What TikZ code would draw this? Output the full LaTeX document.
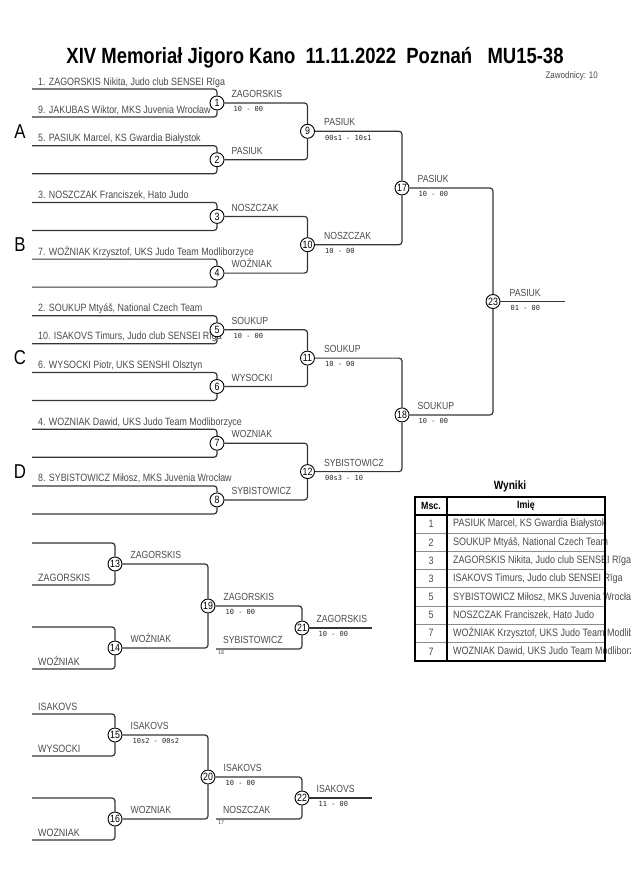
\documentclass[tikz,border=0pt]{standalone}
\usepackage{fontspec}
\setmainfont{Liberation Sans}[FakeStretch=0.84]
\newfontfamily\scorefont{DejaVu Sans Mono}
\usepackage{xcolor}
\definecolor{lineGrey}{HTML}{353535}
\definecolor{textGrey}{HTML}{4A4A4A}
\usetikzlibrary{positioning}
\tikzset{
    bout/.style={circle, draw, fill=white, minimum size=14pt, inner sep=0pt,
                 line width=0.9pt, font=\fontsize{10.5}{10.5}\selectfont},
    bline/.style={draw=lineGrey, line width=1.2pt, rounded corners=3pt},
    player/.style={anchor=base west, inner sep=0pt, text=textGrey,
                   font=\fontsize{10.6}{11}\selectfont},
    winner/.style={inner sep=0pt, text=textGrey,
                   font=\fontsize{10.3}{11}\selectfont},
    score/.style={inner sep=0pt, text=black!85,
                  font=\scorefont\fontsize{7}{7}\selectfont},
    seedref/.style={inner sep=0pt, text=textGrey,
                    font=\scorefont\fontsize{5}{5}\selectfont},
    group/.style={inner sep=0pt, font=\fontsize{20}{20}\selectfont},
    cell/.style={inner sep=0pt, text=textGrey, font=\fontsize{10.7}{11}\selectfont},
}

\begin{document}
\begin{tikzpicture}[x=1pt, y=-1pt]
    \useasboundingbox (0,0) rectangle (630,891);

    % title
    \node[font=\bfseries\fontsize{22}{22}\selectfont] (title) at (315,58)
        {XIV Memoriał Jigoro Kano\ \ 11.11.2022\ \ Poznań\ \ \ MU15-38};
    \node[anchor=east, inner sep=0pt, text=textGrey, font=\fontsize{9.5}{10}\selectfont]
        (count) at (598,76) {Zawodnicy: 10};

    % groups
    \node[group] (gA) at (20,131.3) {A};
    \node[group] (gB) at (20,244.7) {B};
    \node[group] (gC) at (20,358.1) {C};
    \node[group] (gD) at (20,471.6) {D};

    % entries
    \node[player] (p1)  at (38,85)    {1. ZAGORSKIS Nikita, Judo club SENSEI Rīga};
    \node[player] (p9)  at (38,113)   {9. JAKUBAS Wiktor, MKS Juvenia Wrocław};
    \node[player] (p5)  at (38,141.7) {5. PASIUK Marcel, KS Gwardia Białystok};
    \node[player] (p3)  at (38,198.4) {3. NOSZCZAK Franciszek, Hato Judo};
    \node[player] (p7)  at (38,255.1) {7. WOŹNIAK Krzysztof, UKS Judo Team Modliborzyce};
    \node[player] (p2)  at (38,311.8) {2. SOUKUP Mtyáš, National Czech Team};
    \node[player] (p10) at (38,339.8) {10. ISAKOVS Timurs, Judo club SENSEI Rīga};
    \node[player] (p6)  at (38,368.5) {6. WYSOCKI Piotr, UKS SENSHI Olsztyn};
    \node[player] (p4)  at (38,425.2) {4. WOZNIAK Dawid, UKS Judo Team Modliborzyce};
    \node[player] (p8)  at (38,481.9) {8. SYBISTOWICZ Miłosz, MKS Juvenia Wrocław};

    \node[player] (r13) at (38,581) {ZAGORSKIS};
    \node[player] (r14) at (38,665) {WOŹNIAK};
    \node[player] (r15a) at (38,710) {ISAKOVS};
    \node[player] (r15b) at (38,752) {WYSOCKI};
    \node[player] (r16) at (38,836) {WOZNIAK};

    % bouts
    \node[bout] (m1) at (217,103)   {1};
    \node[bout] (m2) at (217,159.7) {2};
    \node[bout] (m3) at (217,216.4) {3};
    \node[bout] (m4) at (217,273.1) {4};
    \node[bout] (m5) at (217,329.8) {5};
    \node[bout] (m6) at (217,386.5) {6};
    \node[bout] (m7) at (217,443.2) {7};
    \node[bout] (m8) at (217,499.9) {8};
    \node[bout] (m9)  at (307.5,131.3) {9};
    \node[bout] (m10) at (307.5,244.7) {10};
    \node[bout] (m11) at (307.5,358.1) {11};
    \node[bout] (m12) at (307.5,471.6) {12};
    \node[bout] (m17) at (402,188)   {17};
    \node[bout] (m18) at (402,414.9) {18};
    \node[bout] (m23) at (493,301.5) {23};

    \node[bout] (m13) at (115,564) {13};
    \node[bout] (m14) at (115,648) {14};
    \node[bout] (m15) at (115,735) {15};
    \node[bout] (m16) at (115,819) {16};
    \node[bout] (m19) at (208,606) {19};
    \node[bout] (m20) at (208,777) {20};
    \node[bout] (m21) at (302,628) {21};
    \node[bout] (m22) at (302,798) {22};

    % line ends
    \coordinate (in1a) at (32,89);    \coordinate (in1b) at (32,117);
    \coordinate (in2a) at (32,145.7); \coordinate (in2b) at (32,173.7);
    \coordinate (in3a) at (32,202.4); \coordinate (in3b) at (32,230.4);
    \coordinate (in4a) at (32,259.1); \coordinate (in4b) at (32,287.1);
    \coordinate (in5a) at (32,315.8); \coordinate (in5b) at (32,343.8);
    \coordinate (in6a) at (32,372.5); \coordinate (in6b) at (32,400.5);
    \coordinate (in7a) at (32,429.2); \coordinate (in7b) at (32,457.2);
    \coordinate (in8a) at (32,485.9); \coordinate (in8b) at (32,513.9);
    \coordinate (in13a) at (32,543); \coordinate (in13b) at (32,585);
    \coordinate (in14a) at (32,627); \coordinate (in14b) at (32,669);
    \coordinate (in15a) at (32,714); \coordinate (in15b) at (32,756);
    \coordinate (in16a) at (32,798); \coordinate (in16b) at (32,840);
    \coordinate (in21) at (216,649);
    \coordinate (in22) at (216,819);
    \coordinate (out23) at (565,301.5);
    \coordinate (out21) at (372,628);
    \coordinate (out22) at (372,798);

    % first round
    \draw[bline] (in1a) -| (m1);  \draw[bline] (in1b) -| (m1);
    \draw[bline] (in2a) -| (m2);  \draw[bline] (in2b) -| (m2);
    \draw[bline] (in3a) -| (m3);  \draw[bline] (in3b) -| (m3);
    \draw[bline] (in4a) -| (m4);  \draw[bline] (in4b) -| (m4);
    \draw[bline] (in5a) -| (m5);  \draw[bline] (in5b) -| (m5);
    \draw[bline] (in6a) -| (m6);  \draw[bline] (in6b) -| (m6);
    \draw[bline] (in7a) -| (m7);  \draw[bline] (in7b) -| (m7);
    \draw[bline] (in8a) -| (m8);  \draw[bline] (in8b) -| (m8);
    % main bracket
    \draw[bline] (m1) -| (m9);   \draw[bline] (m2) -| (m9);
    \draw[bline] (m3) -| (m10);  \draw[bline] (m4) -| (m10);
    \draw[bline] (m5) -| (m11);  \draw[bline] (m6) -| (m11);
    \draw[bline] (m7) -| (m12);  \draw[bline] (m8) -| (m12);
    \draw[bline] (m9) -| (m17);  \draw[bline] (m10) -| (m17);
    \draw[bline] (m11) -| (m18); \draw[bline] (m12) -| (m18);
    \draw[bline] (m17) -| (m23); \draw[bline] (m18) -| (m23);
    \draw[bline] (m23) -- (out23);
    % repechage
    \draw[bline] (in13a) -| (m13); \draw[bline] (in13b) -| (m13);
    \draw[bline] (in14a) -| (m14); \draw[bline] (in14b) -| (m14);
    \draw[bline] (in15a) -| (m15); \draw[bline] (in15b) -| (m15);
    \draw[bline] (in16a) -| (m16); \draw[bline] (in16b) -| (m16);
    \draw[bline] (m13) -| (m19);   \draw[bline] (m14) -| (m19);
    \draw[bline] (m15) -| (m20);   \draw[bline] (m16) -| (m20);
    \draw[bline] (m19) -| (m21);   \draw[bline] (in21) -| (m21);
    \draw[bline] (m20) -| (m22);   \draw[bline] (in22) -| (m22);
    \draw[bline] (m21) -- (out21);
    \draw[bline] (m22) -- (out22);

    % winners and scores
    \node[winner, above right=5pt and 7pt of m1.east] (w1) {ZAGORSKIS};
    \node[score, below right=3.5pt and 9pt of m1.east] (s1) {10 - 00};
    \node[winner, above right=5pt and 7pt of m2.east] (w2) {PASIUK};
    \node[winner, above right=5pt and 7pt of m3.east] (w3) {NOSZCZAK};
    \node[winner, above right=5pt and 7pt of m4.east] (w4) {WOŹNIAK};
    \node[winner, above right=5pt and 7pt of m5.east] (w5) {SOUKUP};
    \node[score, below right=3.5pt and 9pt of m5.east] (s5) {10 - 00};
    \node[winner, above right=5pt and 7pt of m6.east] (w6) {WYSOCKI};
    \node[winner, above right=5pt and 7pt of m7.east] (w7) {WOZNIAK};
    \node[winner, above right=5pt and 7pt of m8.east] (w8) {SYBISTOWICZ};
    \node[winner, above right=5pt and 9pt of m9.east] (w9) {PASIUK};
    \node[score, below right=3.5pt and 10pt of m9.east] (s9) {00s1 - 10s1};
    \node[winner, above right=5pt and 9pt of m10.east] (w10) {NOSZCZAK};
    \node[score, below right=3.5pt and 10pt of m10.east] (s10) {10 - 00};
    \node[winner, above right=5pt and 9pt of m11.east] (w11) {SOUKUP};
    \node[score, below right=3.5pt and 10pt of m11.east] (s11) {10 - 00};
    \node[winner, above right=5pt and 9pt of m12.east] (w12) {SYBISTOWICZ};
    \node[score, below right=3.5pt and 10pt of m12.east] (s12) {00s3 - 10};
    \node[winner, above right=5pt and 8pt of m17.east] (w17) {PASIUK};
    \node[score, below right=3.5pt and 9pt of m17.east] (s17) {10 - 00};
    \node[winner, above right=5pt and 8pt of m18.east] (w18) {SOUKUP};
    \node[score, below right=3.5pt and 9pt of m18.east] (s18) {10 - 00};
    \node[winner, above right=5pt and 9pt of m23.east] (w23) {PASIUK};
    \node[score, below right=3.5pt and 10pt of m23.east] (s23) {01 - 00};

    \node[winner, above right=5pt and 8pt of m13.east] (w13) {ZAGORSKIS};
    \node[winner, above right=5pt and 8pt of m14.east] (w14) {WOŹNIAK};
    \node[winner, above right=5pt and 8pt of m15.east] (w15) {ISAKOVS};
    \node[score, below right=3.5pt and 10pt of m15.east] (s15) {10s2 - 00s2};
    \node[winner, above right=5pt and 8pt of m16.east] (w16) {WOZNIAK};
    \node[winner, above right=5pt and 8pt of m19.east] (w19) {ZAGORSKIS};
    \node[score, below right=3.5pt and 10pt of m19.east] (s19) {10 - 00};
    \node[winner, above right=5pt and 8pt of m20.east] (w20) {ISAKOVS};
    \node[score, below right=3.5pt and 10pt of m20.east] (s20) {10 - 00};
    \node[winner, above right=5pt and 7pt of m21.east] (w21) {ZAGORSKIS};
    \node[score, below right=3.5pt and 9pt of m21.east] (s21) {10 - 00};
    \node[winner, above right=5pt and 7pt of m22.east] (w22) {ISAKOVS};
    \node[score, below right=3.5pt and 9pt of m22.east] (s22) {11 - 00};
    \node[winner, above right=5pt and 7pt of in21] (l21) {SYBISTOWICZ};
    \node[seedref, below right=2pt and 2pt of in21] (f21) {18};
    \node[winner, above right=5pt and 7pt of in22] (l22) {NOSZCZAK};
    \node[seedref, below right=2pt and 2pt of in22] (f22) {17};

    % results
    \node[font=\bfseries\fontsize{12}{12}\selectfont] (res) at (510,486) {Wyniki};
    \node[font=\bfseries\fontsize{10.5}{10.5}\selectfont] (hMsc) at (431,506) {Msc.};
    \node[font=\bfseries\fontsize{10.5}{10.5}\selectfont] (hName) at (526,506) {Imię};
    \node[cell] (n1) at (431,524.1) {1};
    \node[cell] (n2) at (431,542.3) {2};
    \node[cell] (n3) at (431,560.5) {3};
    \node[cell] (n4) at (431,578.7) {3};
    \node[cell] (n5) at (431,596.9) {5};
    \node[cell] (n6) at (431,615.1) {5};
    \node[cell] (n7) at (431,633.3) {7};
    \node[cell] (n8) at (431,651.5) {7};
    \node[cell, anchor=west] (t1) at (453,524.1) {PASIUK Marcel, KS Gwardia Białystok};
    \node[cell, anchor=west] (t2) at (453,542.3) {SOUKUP Mtyáš, National Czech Team};
    \node[cell, anchor=west] (t3) at (453,560.5) {ZAGORSKIS Nikita, Judo club SENSEI Rīga};
    \node[cell, anchor=west] (t4) at (453,578.7) {ISAKOVS Timurs, Judo club SENSEI Rīga};
    \node[cell, anchor=west] (t5) at (453,596.9) {SYBISTOWICZ Miłosz, MKS Juvenia Wrocław};
    \node[cell, anchor=west] (t6) at (453,615.1) {NOSZCZAK Franciszek, Hato Judo};
    \node[cell, anchor=west] (t7) at (453,633.3) {WOŹNIAK Krzysztof, UKS Judo Team Modliborzyce};
    \node[cell, anchor=west] (t8) at (453,651.5) {WOZNIAK Dawid, UKS Judo Team Modliborzyce};
    \draw[black!45, line width=0.8pt]
        (415,533.2) -- (605,533.2) (415,551.4) -- (605,551.4)
        (415,569.6) -- (605,569.6) (415,587.8) -- (605,587.8)
        (415,606) -- (605,606) (415,624.2) -- (605,624.2)
        (415,642.4) -- (605,642.4);
    \draw[line width=1.3pt] (447,497) -- (447,660.6) (415,515) -- (605,515);
    \draw[line width=1.8pt] (415,497) rectangle (605,660.6);
\end{tikzpicture}
\end{document}
